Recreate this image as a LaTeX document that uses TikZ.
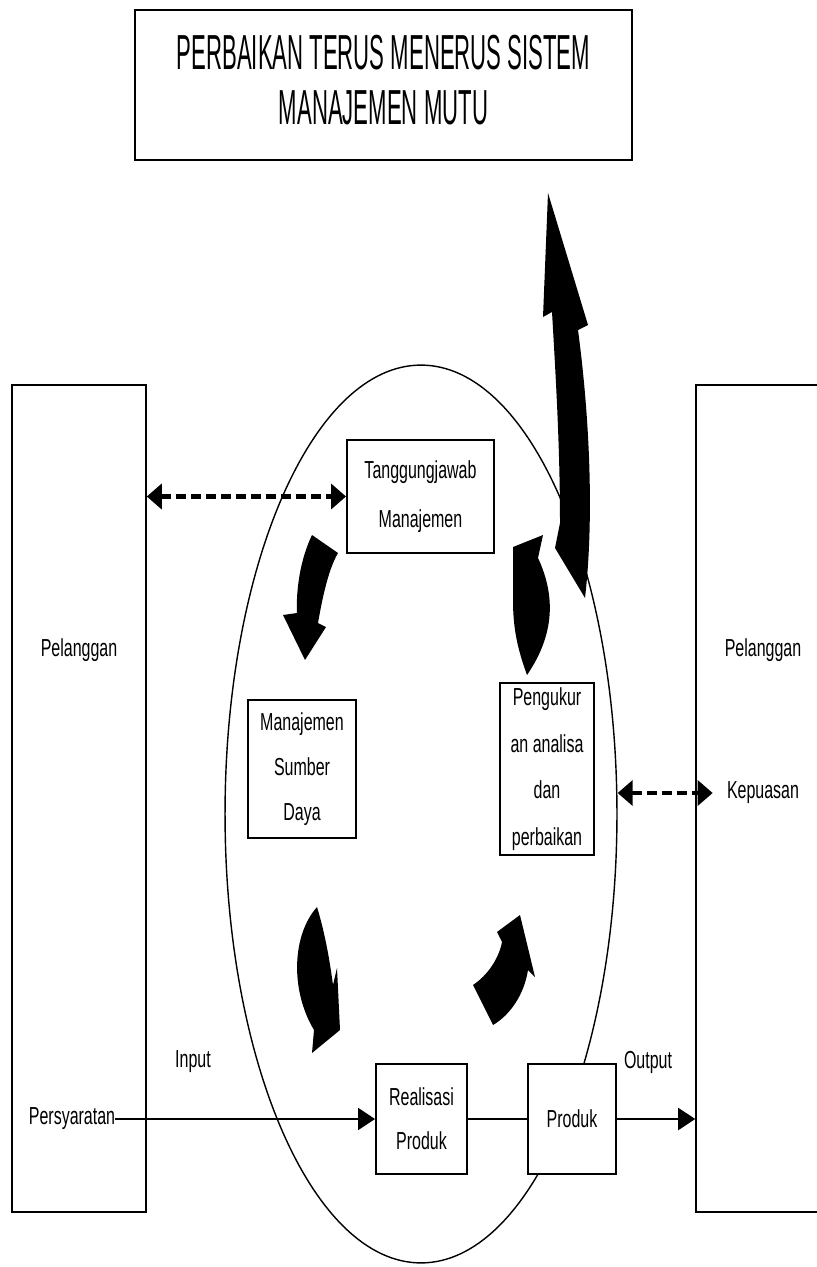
\documentclass[tikz,border=0pt]{standalone}
\usepackage{fontspec}
\setmainfont[FakeStretch=0.65]{Liberation Sans}
\newfontfamily\judulfont[FakeStretch=0.45]{Liberation Sans}
\usetikzlibrary{arrows.meta,shapes.geometric}

\begin{document}
\begin{tikzpicture}[x=0.02cm,y=-0.02cm,
    kotak/.style={draw,line width=1.1pt,fill=white,align=center,inner sep=0pt,font=\fontsize{14}{25}\selectfont},
    teks/.style={inner sep=0pt,font=\fontsize{14}{25}\selectfont},
    putus/.style={line width=2.3pt,dash pattern=on 0.2cm off 0.1cm,{Triangle[length=0.3cm,width=0.5cm]}-{Triangle[length=0.3cm,width=0.5cm]}},
    panah/.style={line width=1.1pt,-{Triangle[length=0.34cm,width=0.44cm]}},
    blok/.style={fill=black}]
        \useasboundingbox (0,0) rectangle (817,1267);
        \clip (0,0) rectangle (817,1267);

        \node[draw,line width=1.5pt,minimum width=9.94cm,minimum height=3cm,align=center,text depth=0.2cm,
            font=\judulfont\fontsize{28}{31}\selectfont] (judul) at (383.5,85)
            {PERBAIKAN TERUS MENERUS SISTEM\\MANAJEMEN MUTU};

        % pelanggan di kiri dan kanan
        \node[draw,line width=0.9pt,minimum width=2.68cm,minimum height=16.54cm] (pihakKiri) at (79,798.5) {};
        \node[draw,line width=0.9pt,minimum width=2.68cm,minimum height=16.54cm] (pihakKanan) at (763,798.5) {};
        \node[teks] (pelangganKiri) at (79,650) {Pelanggan};
        \node[teks] (persyaratan) at (72,1119) {Persyaratan};
        \node[teks] (pelangganKanan) at (763,650) {Pelanggan};
        \node[teks] (kepuasan) at (763,793) {Kepuasan};
        \node[teks] (input) at (193,1062) {Input};
        \node[teks] (output) at (648,1062) {Output};

        \node[draw,ellipse,line width=0.8pt,minimum width=7.84cm,minimum height=17.96cm] (siklus) at (421,814) {};

        \node[kotak,minimum width=2.94cm,minimum height=2.26cm,font=\fontsize{14}{28}\selectfont] (tanggung) at (420.5,496.5) {Tanggungjawab\\Manajemen};
        \node[kotak,minimum width=2.16cm,minimum height=2.76cm,font=\fontsize{14}{25.5}\selectfont] (sumber) at (302,769) {Manajemen\\Sumber\\Daya};
        \node[kotak,minimum width=1.88cm,minimum height=3.44cm,font=\fontsize{14}{26.5}\selectfont] (ukur) at (547,769) {Pengukur\\an analisa\\dan\\perbaikan};
        \node[kotak,minimum width=1.82cm,minimum height=2.2cm] (realisasi) at (421.5,1119) {Realisasi\\Produk};
        \node[kotak,minimum width=1.76cm,minimum height=2.2cm] (produk) at (572,1119) {Produk};

        \draw[putus] (pihakKiri.east |- tanggung.west) -- (tanggung.west);
        \draw[putus,shorten >=0.28cm] (siklus.east |- kepuasan.west) -- (kepuasan.west);

        \draw[panah] (persyaratan.east) -- (realisasi.west);
        \draw[line width=1.1pt] (realisasi.east) -- (produk.west);
        \draw[panah] (produk.east) -- (pihakKanan.west |- produk.east);

        % panah lengkung di dalam siklus
        \fill[blok] (312,535) .. controls (300,560) and (296,590) .. (297,613) -- (283,615) -- (305,660)
            -- (326,627) -- (318,623) .. controls (322,600) and (328,570) .. (338,553) -- cycle;
        \fill[blok] (317,907) .. controls (292,935) and (290,990) .. (314,1030) -- (312,1053) -- (340,1030)
            -- (337,968) -- (333,985) .. controls (329,955) and (324,930) .. (317,907) -- cycle;
        \fill[blok] (473,985) .. controls (488,975) and (499,958) .. (502,942) -- (497,932) -- (520,915)
            -- (535,977) -- (528,970) .. controls (524,995) and (510,1015) .. (493,1025) -- cycle;
        \fill[blok] (513,547) -- (543,535) -- (538,558) .. controls (553,590) and (558,630) .. (527,675)
            .. controls (518,650) and (513,630) .. (513,600) -- cycle;

        % panah besar ke atas
        \fill[blok] (555,548) -- (585,598) .. controls (594,520) and (590,420) .. (578,330) -- (588,325)
            -- (548,193) -- (543,317) -- (552,312) .. controls (556,380) and (560,450) .. (560,523) -- cycle;
\end{tikzpicture}
\end{document}
